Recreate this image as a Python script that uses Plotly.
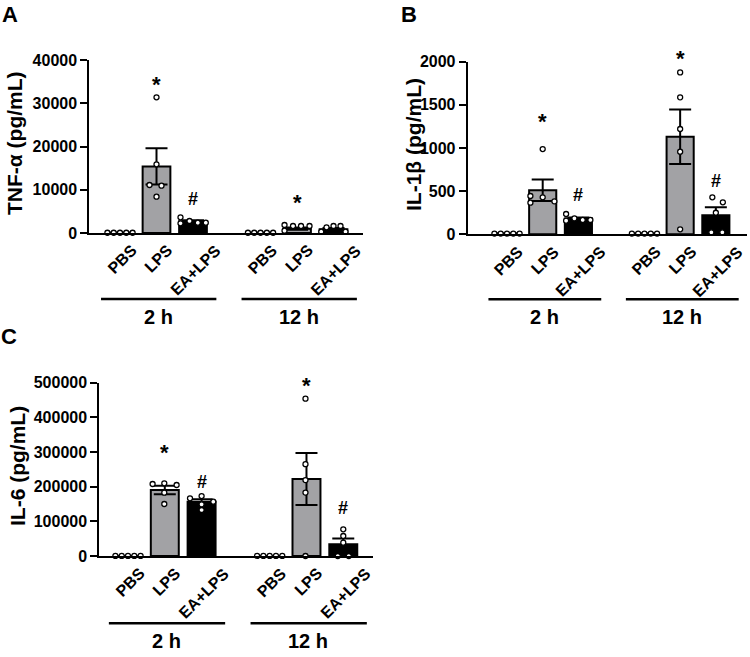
import plotly.graph_objects as go

# ---------------- data ----------------
CATEGORIES = ["PBS", "LPS", "EA+LPS", "PBS", "LPS", "EA+LPS"]
GROUPS = ["2 h", "12 h"]

# TNF-alpha (pg/mL)
TNF_MEAN = [60, 15400, 2700, 60, 1000, 850]
TNF_SEM = [10, 4200, 250, 10, 250, 300]
TNF_PTS = [
    [60, 60, 60, 60, 60],
    [31375, 15884, 11098, 10936, 8393],
    [3630, 2243, 2775, 2381, 2381],
    [60, 60, 60, 60, 60],
    [1850, 532, 1618, 1618, 1618],
    [300, 1320, 1618, 1618, 300],
]
TNF_SIG = ["", "*", "#", "", "*", ""]
TNF_SIG_Y = [None, 35375, 7861, None, 8092, None]
TNF_TICKS = [0, 10000, 20000, 30000, 40000]
TNF_TICKTEXT = ["0", "10000", "20000", "30000", "40000"]

# IL-1beta (pg/mL)
IL1_MEAN = [8, 510, 182, 8, 1131, 220]
IL1_SEM = [2, 125, 14, 2, 315, 93]
IL1_PTS = [
    [8, 8, 8, 8, 8],
    [444, 366, 988, 429, 382],
    [235, 158, 185, 166, 166],
    [8, 8, 8, 8, 8],
    [1876, 1587, 1220, 957, 58],
    [429, 371, 250, 23, 23],
]
IL1_SIG = ["", "*", "#", "", "*", "#"]
IL1_SIG_Y = [None, 1356, 455, None, 2086, 618]
IL1_TICKS = [0, 500, 1000, 1500, 2000]
IL1_TICKTEXT = ["0", "500", "1000", "1500", "2000"]

# IL-6 (pg/mL)
IL6_MEAN = [300, 190400, 156700, 300, 222000, 33700]
IL6_SEM = [50, 12000, 7000, 50, 75000, 17000]
IL6_PTS = [
    [300, 300, 300, 300, 300],
    [207700, 209800, 204800, 182700, 150000],
    [166500, 173000, 156700, 149000, 132700],
    [300, 300, 300, 300, 300],
    [454000, 265000, 219000, 183000, 0],
    [77000, 57700, 38500, 0, 0],
]
IL6_SIG = ["", "*", "#", "", "*", "#"]
IL6_SIG_Y = [None, 310700, 214400, None, 502900, 137600]
IL6_TICKS = [0, 100000, 200000, 300000, 400000, 500000]
IL6_TICKTEXT = ["0", "100000", "200000", "300000", "400000", "500000"]

# ---------------- layout / style ----------------
W, H = 750, 657
POS = [0, 1, 2, 3.85, 4.85, 5.85]
GROUP_START = [0, 3.85]
FILL = ["white", "#a2a2a5", "black", "white", "#a2a2a5", "black"]
FONT = "Liberation Sans, Arial, Helvetica, sans-serif"

# dot horizontal offsets in pixels (GraphPad-style column scatter)
ROW = [-12.6, -6.3, 0, 6.3, 12.6]
JIT = {
    "A": [ROW, [0, 0, -7, 5, 0], [-12.5, -12.5, -3.5, 4.8, 12.8], ROW,
          [-12.5, -12.5, -4, 4, 12.5], [-12.3, -7, 0, 7, 12]],
    "B": [ROW, [-12.3, -12.3, 0, 0, 11.7], [-12.3, -12.3, -4, 4.3, 12], ROW,
          [0, 0, 0, 0, 0], [-3.5, 7, 0, -4.5, 6.5]],
    "C": [ROW, [-12.2, -0.5, 11.8, -0.5, -0.5], [-11.6, 0, 11.7, 0, 0], ROW,
          [-1, -1, -1, -1, -1], [0, 0, 0, -5.5, 5.5]],
}

# positions below are in pixels of the target picture
PANELS = [
    dict(key="A", mean=TNF_MEAN, sem=TNF_SEM, pts=TNF_PTS, sig=TNF_SIG, sigy=TNF_SIG_Y,
         ticks=TNF_TICKS, ticktext=TNF_TICKTEXT, title="TNF-α (pg/mL)",
         xpx=(89.3, 363.3), ypx=(60, 233), pos0=120, slot=36.5,
         title_xy=(15, 143), letter_xy=(10, 15), line_y=299, glabel_y=316.7),
    dict(key="B", mean=IL1_MEAN, sem=IL1_SEM, pts=IL1_PTS, sig=IL1_SIG, sigy=IL1_SIG_Y,
         ticks=IL1_TICKS, ticktext=IL1_TICKTEXT, title="IL-1β (pg/mL)",
         xpx=(467.7, 746.7), ypx=(61.7, 234.3), pos0=507, slot=35.7,
         title_xy=(413, 145), letter_xy=(409, 14), line_y=299.3, glabel_y=316.7),
    dict(key="C", mean=IL6_MEAN, sem=IL6_SEM, pts=IL6_PTS, sig=IL6_SIG, sigy=IL6_SIG_Y,
         ticks=IL6_TICKS, ticktext=IL6_TICKTEXT, title="IL-6 (pg/mL)",
         xpx=(99.3, 372.7), ypx=(382.7, 556), pos0=128, slot=36.8,
         title_xy=(17, 466), letter_xy=(9, 336), line_y=623.3, glabel_y=640.8),
]


def px(x):
    return x / W


def py(y):
    return 1 - y / H


def bold(s):
    return f"<b>{s}</b>"


fig = go.Figure()
annotations = []
shapes = []
layout_axes = {}

for i, p in enumerate(PANELS, start=1):
    xa = "x" if i == 1 else f"x{i}"
    ya = "y" if i == 1 else f"y{i}"
    slot = p["slot"]
    r0 = (p["xpx"][0] - p["pos0"]) / slot
    r1 = (p["xpx"][1] - p["pos0"]) / slot
    yd0, yd1 = py(p["ypx"][1]), py(p["ypx"][0])
    ytop = p["ticks"][-1]

    fig.add_trace(go.Bar(
        x=POS, y=p["mean"], width=0.76, xaxis=xa, yaxis=ya,
        marker=dict(color=FILL, line=dict(color="black", width=2)),
        error_y=dict(type="data", array=p["sem"], visible=True, color="black",
                     thickness=2, width=11),
        showlegend=False, hoverinfo="skip",
    ))

    xs, ys = [], []
    for k, vals in enumerate(p["pts"]):
        for j, v in enumerate(vals):
            xs.append(POS[k] + JIT[p["key"]][k][j] / slot)
            ys.append(v)
    fig.add_trace(go.Scatter(
        x=xs, y=ys, mode="markers", xaxis=xa, yaxis=ya, cliponaxis=False,
        marker=dict(size=5, color="white", line=dict(color="black", width=1.3)),
        showlegend=False, hoverinfo="skip",
    ))

    xkey = "xaxis" if i == 1 else f"xaxis{i}"
    ykey = "yaxis" if i == 1 else f"yaxis{i}"
    layout_axes[xkey] = dict(
        domain=[px(p["xpx"][0]), px(p["xpx"][1])], range=[r0, r1], anchor=ya,
        showline=True, linecolor="black", linewidth=2, ticks="", showticklabels=False,
        showgrid=False, zeroline=False, fixedrange=True, automargin=False,
    )
    layout_axes[ykey] = dict(
        domain=[yd0, yd1], range=[0, ytop], anchor=xa,
        showline=True, linecolor="black", linewidth=2, ticks="outside", ticklen=7,
        tickwidth=2, tickcolor="black", tickvals=p["ticks"],
        ticktext=[bold(t) for t in p["ticktext"]],
        tickfont=dict(family=FONT, size=16, color="black"),
        showgrid=False, zeroline=False, fixedrange=True, automargin=False,
    )

    # category labels (rotated)
    for k, c in enumerate(CATEGORIES):
        annotations.append(dict(
            x=POS[k], y=py(p["ypx"][1] + 6), xref=xa, yref="paper", text=bold(c),
            textangle=-45, xanchor="center", yanchor="top", showarrow=False, xshift=2,
            font=dict(family=FONT, size=16, color="black"),
        ))

    # group lines and labels
    for g, gname in zip(GROUP_START, GROUPS):
        shapes.append(dict(
            type="line", xref=xa, yref="paper", x0=g - 0.52, x1=g + 2.64,
            y0=py(p["line_y"]), y1=py(p["line_y"]), line=dict(color="black", width=2.5),
        ))
        annotations.append(dict(
            x=g + 1.05, y=py(p["glabel_y"]), xref=xa, yref="paper", text=bold(gname),
            xanchor="center", yanchor="middle", showarrow=False,
            font=dict(family=FONT, size=20, color="black"),
        ))

    # significance marks (placed in paper coords so they may sit above the axis top)
    for k, (s, sy) in enumerate(zip(p["sig"], p["sigy"])):
        if not s:
            continue
        annotations.append(dict(
            x=POS[k], y=yd0 + sy / ytop * (yd1 - yd0), xref=xa, yref="paper", text=bold(s),
            showarrow=False, xanchor="center", yanchor="middle",
            yshift=-4 if s == "*" else 0,
            font=dict(family=FONT, size=22 if s == "*" else 18, color="black"),
        ))

    # y-axis title
    annotations.append(dict(
        x=px(p["title_xy"][0]), y=py(p["title_xy"][1]), xref="paper", yref="paper",
        text=bold(p["title"]), textangle=-90, showarrow=False, xanchor="center",
        yanchor="middle", font=dict(family=FONT, size=21, color="black"),
    ))

    # panel letter
    annotations.append(dict(
        x=px(p["letter_xy"][0]), y=py(p["letter_xy"][1]), xref="paper", yref="paper",
        text=bold(p["key"]), showarrow=False, xanchor="center", yanchor="middle",
        font=dict(family=FONT, size=22, color="black"),
    ))

fig.update_layout(
    template="none",
    width=W, height=H, margin=dict(l=0, r=0, t=0, b=0, autoexpand=False),
    paper_bgcolor="white", plot_bgcolor="white",
    font=dict(family=FONT, color="black"),
    barmode="overlay", showlegend=False, hovermode=False,
    annotations=annotations, shapes=shapes,
    **layout_axes,
)

# remove the browser's default 8px page margin so the figure starts at the window corner
fig.write_html(
    "out.html",
    config={"displayModeBar": False, "staticPlot": True},
    post_script="document.body.style.margin='0px';document.body.style.overflow='hidden';",
)
